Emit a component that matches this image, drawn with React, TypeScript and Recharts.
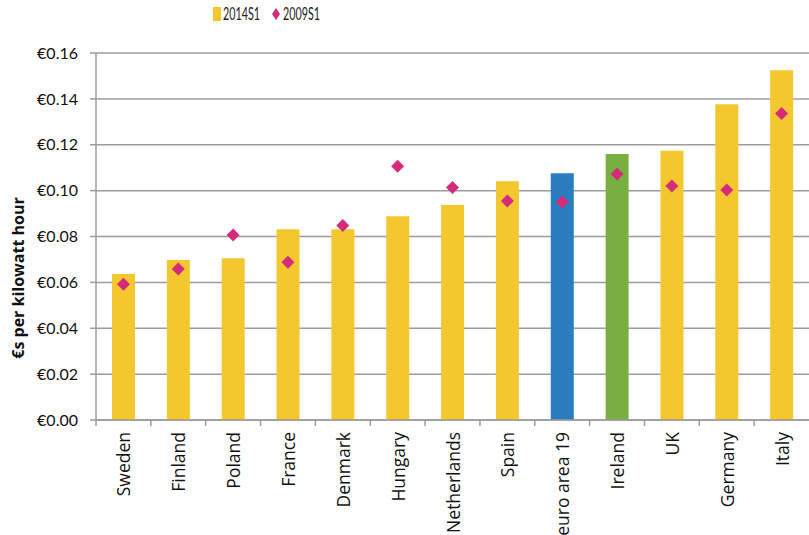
import React from 'react'
import { ComposedChart, Bar, Line, XAxis, YAxis, CartesianGrid, Cell, Customized } from 'recharts'

const countries = [
  'Sweden', 'Finland', 'Poland', 'France', 'Denmark', 'Hungary', 'Netherlands',
  'Spain', 'euro area 19', 'Ireland', 'UK', 'Germany', 'Italy',
]
const price2014S1 = [0.0637, 0.0698, 0.0705, 0.0832, 0.0832, 0.0888, 0.0937, 0.1041, 0.1076, 0.1160, 0.1174, 0.1377, 0.1525]
const price2009S1 = [0.0592, 0.0658, 0.0806, 0.0688, 0.0848, 0.1106, 0.1014, 0.0955, 0.0950, 0.1072, 0.1020, 0.1003, 0.1336]
const yTicks = [0, 0.02, 0.04, 0.06, 0.08, 0.1, 0.12, 0.14, 0.16]

const YELLOW = '#F5C72F'
const BLUE = '#2A7DBE'
const GREEN = '#79AF41'
const PINK = '#D42C7B'
const GRID = '#9c9c9c'

const barColor = (name: string) => {
  if (name === 'euro area 19') return BLUE
  if (name === 'Ireland') return GREEN
  return YELLOW
}

const data = countries.map((name, i) => ({
  name,
  s2014: price2014S1[i],
  s2009: price2009S1[i],
}))

const WIDTH = 809
const HEIGHT = 535
const LEFT = 96
const bandHalf = (WIDTH - LEFT) / countries.length / 2

const Diamond = (props: any) => {
  const { cx, cy } = props
  if (cx == null || cy == null) return null
  const r = 6.5
  return (
    <polygon
      points={`${cx},${cy - r} ${cx + r},${cy} ${cx},${cy + r} ${cx - r},${cy}`}
      fill={PINK}
    />
  )
}

// category label rotated upright, plus a tick mark on the left edge of each band
const CountryTick = (props: any) => {
  const { x, y, payload } = props
  return (
    <g>
      <line x1={x - bandHalf} y1={y - 6} x2={x - bandHalf} y2={y} stroke={GRID} strokeWidth={1.5} />
      <text
        x={x}
        y={y + 6}
        transform={`rotate(-90, ${x}, ${y + 6})`}
        textAnchor="end"
        dominantBaseline="central"
        fontFamily="'Open Sans', sans-serif"
        fontSize={17.5}
        fill="#111"
      >
        {payload.value}
      </text>
    </g>
  )
}

const legendText = { fontFamily: 'Lato, sans-serif', fontSize: '17px', fill: '#222' }

const Legend = () => (
  <g>
    <rect x={213} y={7} width={8} height={14} fill={YELLOW} />
    <text x={223} y={20} style={legendText} textLength={37} lengthAdjust="spacingAndGlyphs">2014S1</text>
    <polygon points="276,8 280,14 276,20 272,14" fill={PINK} />
    <text x={283} y={20} style={legendText} textLength={37} lengthAdjust="spacingAndGlyphs">2009S1</text>
  </g>
)

const YLabel = () => (
  <text
    x={24}
    y={278}
    transform="rotate(-90, 24, 278)"
    textAnchor="middle"
    fontFamily="'Open Sans', sans-serif"
    fontWeight={700}
    fontSize={16}
    fill="#111"
  >
    €s per kilowatt hour
  </text>
)

export default function App() {
  return (
    <div style={{ position: 'absolute', left: 0, top: 0, background: '#fff' }}>
      <ComposedChart
        width={WIDTH}
        height={HEIGHT}
        data={data}
        margin={{ top: 53, right: 0, bottom: 0, left: 0 }}
      >
        <CartesianGrid vertical={false} stroke={GRID} strokeWidth={1.5} />
        <XAxis
          dataKey="name"
          height={115}
          interval={0}
          axisLine={{ stroke: GRID, strokeWidth: 1.5 }}
          tickLine={false}
          tick={<CountryTick />}
          tickMargin={0}
        />
        <YAxis
          width={LEFT}
          domain={[0, 0.16]}
          ticks={yTicks}
          interval={0}
          axisLine={{ stroke: GRID, strokeWidth: 1.5 }}
          tickLine={{ stroke: GRID, strokeWidth: 1.5 }}
          tickSize={6}
          tickMargin={12}
          tickFormatter={(v: number) => `€${v.toFixed(2)}`}
          tick={{ fontFamily: 'Lato, sans-serif', fontSize: 16, fill: '#111' }}
        />
        <Bar dataKey="s2014" barSize={23} isAnimationActive={false}>
          {data.map((d, i) => (
            <Cell key={`cell-${i}`} fill={barColor(d.name)} />
          ))}
        </Bar>
        <Line
          dataKey="s2009"
          stroke="none"
          dot={<Diamond />}
          activeDot={false}
          isAnimationActive={false}
        />
        <Customized component={<Legend />} />
        <Customized component={<YLabel />} />
      </ComposedChart>
    </div>
  )
}
